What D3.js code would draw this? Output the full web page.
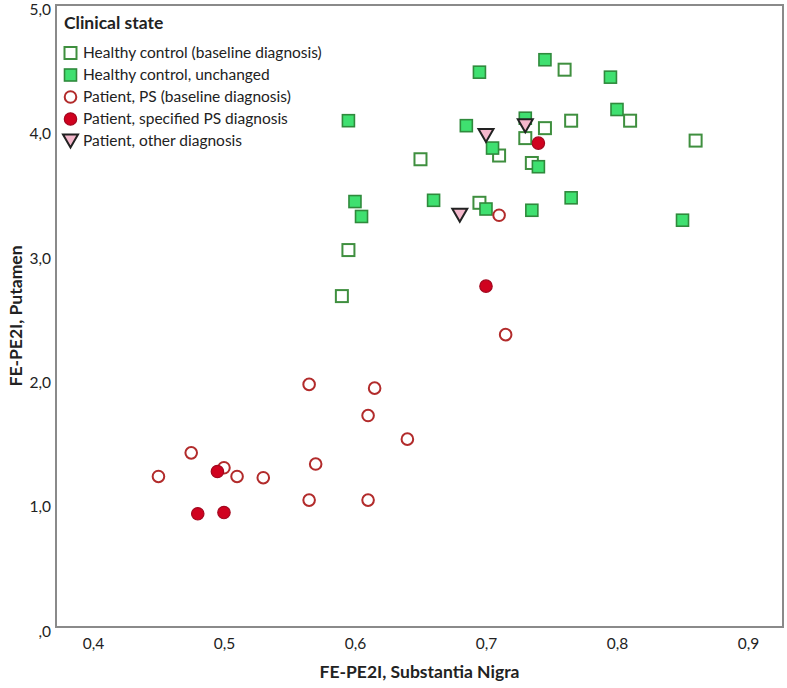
<!DOCTYPE html>
<html><head><meta charset="utf-8">
<script src="https://cdn.jsdelivr.net/npm/d3@7"></script>
<style>
html,body{margin:0;padding:0;background:#fff;}
svg{display:block;}
text{font-family:Lato,"Open Sans",sans-serif;fill:#222;}
</style></head>
<body><svg id="c" width="787" height="688"></svg>
<script>
// Data: [FE-PE2I Substantia Nigra, FE-PE2I Putamen]
const healthyBaseline = [
  [0.760,4.48],[0.765,4.07],[0.810,4.07],[0.745,4.01],[0.730,3.93],[0.710,3.79],
  [0.650,3.76],[0.735,3.73],[0.860,3.91],[0.695,3.41],[0.595,3.03],[0.590,2.66]
];
const healthyUnchanged = [
  [0.745,4.56],[0.795,4.42],[0.695,4.46],[0.595,4.07],[0.800,4.16],[0.685,4.03],
  [0.730,4.09],[0.705,3.85],[0.740,3.70],[0.600,3.42],[0.605,3.30],[0.660,3.43],
  [0.700,3.36],[0.735,3.35],[0.765,3.45],[0.850,3.27]
];
const patientPS = [
  [0.710,3.31],[0.715,2.35],[0.565,1.95],[0.615,1.92],[0.610,1.70],[0.640,1.51],
  [0.475,1.40],[0.570,1.31],[0.500,1.28],[0.450,1.21],[0.510,1.21],[0.530,1.20],
  [0.565,1.02],[0.610,1.02]
];
const patientSpecified = [
  [0.740,3.89],[0.700,2.74],[0.495,1.25],[0.480,0.91],[0.500,0.92]
];
const patientOther = [
  [0.700,3.95],[0.730,4.03],[0.680,3.31]
];
const xTicks = [0.4,0.5,0.6,0.7,0.8,0.9];
const yTicks = [0,1,2,3,4,5];
const legendLabels = [
  "Healthy control (baseline diagnosis)",
  "Healthy control, unchanged",
  "Patient, PS (baseline diagnosis)",
  "Patient, specified PS diagnosis",
  "Patient, other diagnosis"
];

const svg = d3.select("#c");
const L = 56, R = 783, T = 5, B = 627;
const x = d3.scaleLinear().domain([0.3718, 0.9267]).range([L, R]);
const y = d3.scaleLinear().domain([0, 5]).range([B, T]);

const xAxis = d3.axisBottom(x).tickValues(xTicks).tickSize(0).tickPadding(10)
  .tickFormat(d => d3.format(".1f")(d).replace(".", ","));
const yAxis = d3.axisLeft(y).tickValues(yTicks).tickSize(0).tickPadding(5)
  .tickFormat(d => d === 0 ? ",0" : d3.format(".1f")(d).replace(".", ","));
const gx = svg.append("g").attr("transform", `translate(0,${B})`).call(xAxis);
const gy = svg.append("g").attr("transform", `translate(${L},0)`).call(yAxis);
[gx, gy].forEach(g => {
  g.select(".domain").remove();
  g.selectAll("text").attr("font-family", "Lato, sans-serif").attr("font-size", 15.5).attr("fill", "#333");
});
gy.selectAll("text").attr("dy", "0.6em");
gx.selectAll("text").attr("dy", "0.8em");

// frame
svg.append("rect").attr("x", L).attr("y", T).attr("width", R - L).attr("height", B - T)
  .attr("fill", "none").attr("stroke", "#8a8a8a").attr("stroke-width", 2);

// axis titles
svg.append("text").attr("x", (L + R) / 2).attr("y", 678).attr("text-anchor", "middle")
  .attr("font-weight", "bold").attr("font-size", 17.5).text("FE-PE2I, Substantia Nigra");
svg.append("text").attr("transform", `translate(22,${(T + B) / 2}) rotate(-90)`)
  .attr("text-anchor", "middle").attr("font-weight", "bold").attr("font-size", 17.5)
  .text("FE-PE2I, Putamen");

// marker drawers
const S = 12;
function openSquare(g, cx, cy) {
  g.append("rect").attr("x", cx - S / 2).attr("y", cy - S / 2).attr("width", S).attr("height", S)
    .attr("fill", "#fff").attr("stroke", "#3f8f3f").attr("stroke-width", 2);
}
function filledSquare(g, cx, cy) {
  g.append("rect").attr("x", cx - S / 2).attr("y", cy - S / 2).attr("width", S).attr("height", S)
    .attr("fill", "#3fe070").attr("stroke", "#2f8a3c").attr("stroke-width", 1.6);
}
function openCircle(g, cx, cy) {
  g.append("circle").attr("cx", cx).attr("cy", cy).attr("r", 5.8)
    .attr("fill", "#fff").attr("stroke", "#b22b2b").attr("stroke-width", 2);
}
function filledCircle(g, cx, cy) {
  g.append("circle").attr("cx", cx).attr("cy", cy).attr("r", 6.2)
    .attr("fill", "#d0021f").attr("stroke", "#a3081f").attr("stroke-width", 1.2);
}
function triangle(g, cx, cy) {
  const w = 15, h = 13;
  g.append("path").attr("d", `M${cx - w / 2},${cy - h / 2}L${cx + w / 2},${cy - h / 2}L${cx},${cy + h / 2}Z`)
    .attr("fill", "#f4b8cc").attr("stroke", "#222").attr("stroke-width", 2).attr("stroke-linejoin", "miter");
}

const pts = svg.append("g");
const layers = [
  [healthyBaseline, openSquare],
  [healthyUnchanged, filledSquare],
  [patientPS, openCircle],
  [patientSpecified, filledCircle],
  [patientOther, triangle]
];
layers.forEach(([data, fn]) => {
  data.forEach(d => fn(pts, x(d[0]), y(d[1])));
});

// legend
const lg = svg.append("g");
lg.append("text").attr("x", 64).attr("y", 29).attr("font-weight", "bold").attr("font-size", 17.5)
  .text("Clinical state");
const drawers = [openSquare, filledSquare, openCircle, filledCircle, triangle];
legendLabels.forEach((lab, i) => {
  const cy = 53 + i * 22;
  drawers[i](lg, 70.5, cy);
  lg.append("text").attr("x", 83).attr("y", cy).attr("dy", "0.35em").attr("font-size", 15.5).text(lab);
});
</script></body></html>
